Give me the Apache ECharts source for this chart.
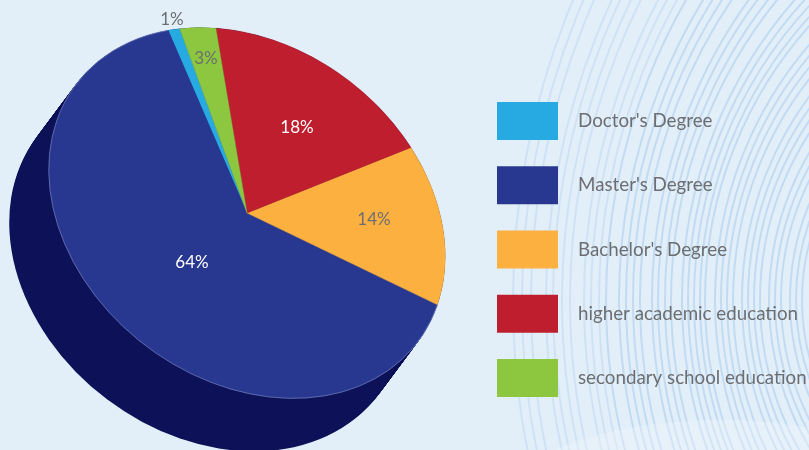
<!DOCTYPE html>
<html>
<head>
<meta charset="utf-8">
<script src="https://cdn.jsdelivr.net/npm/echarts@6/dist/echarts.min.js"></script>
<style>html,body{margin:0;padding:0;background:#e2eff9}#c{width:809px;height:450px}</style>
</head>
<body>
<div id="c"></div>
<script>
// Categories in legend order (the slices run counter-clockwise in this order)
const categories = ["Doctor's Degree", "Master's Degree", "Bachelor's Degree", "higher academic education", "secondary school education"];
// Percentages printed on the chart
const percentValues = [1, 64, 14, 18, 3];

// ---- styling and layout, separate from the data ----
const colors = ['#27aae1', '#283891', '#fbb040', '#be1e2d', '#8dc63f'];
const labelColors = ['#6d6e71', '#ffffff', '#6d6e71', '#ffffff', '#6d6e71'];
const labelSpots = [[172, 19], [192, 262], [374, 219], [297, 127], [206, 58]];
const CX = 247, CY = 213;
const MAJOR = 214, MINOR = 167, TILT_DEG = 37;
const DEPTH_X = -39.5, DEPTH_Y = 53;
const START_DEG = -140.3;
const ringLefts = [513, 522, 531, 546, 553, 562, 570, 584, 591, 599, 606, 619, 626, 633, 640, 652, 658, 665, 671, 682, 688, 694, 700, 705, 715, 721, 727, 733, 742, 748, 754, 760, 769, 775, 781, 790, 796, 802];

const rings = ringLefts.map(function (x, i) {
  const r = 780 - (x - 513) * 1.917;
  return { type: 'circle', silent: true, z: 0,
    shape: { cx: x + r, cy: 300, r: r },
    style: { fill: 'none', stroke: i < 10 ? '#cfe2f5' : '#c2dbf2', lineWidth: 2 } };
});
const glow = { type: 'ellipse', silent: true, z: 1,
  shape: { cx: 720, cy: 520, rx: 230, ry: 100 },
  style: { fill: 'rgba(240,247,252,0.35)' } };

// A tilted, flattened disc: the slice is drawn on a circle, then squashed and turned.
function tilted(child, dx, dy) {
  return {
    type: 'group', x: CX + dx, y: CY + dy, rotation: -TILT_DEG * Math.PI / 180,
    children: [{
      type: 'group', scaleY: MINOR / MAJOR,
      children: [child]
    }]
  };
}

const depthSeries = {
  type: 'custom', name: 'depth', coordinateSystem: 'none', silent: true, z: 2,
  data: [[1]],
  renderItem: function () {
    const children = [];
    for (let k = 0; k <= 53; k++) {
      const t = k / 53;
      children.push(tilted({
        type: 'circle',
        shape: { cx: 0, cy: 0, r: MAJOR },
        style: { fill: '#0c1158' }
      }, DEPTH_X * t, DEPTH_Y * t));
    }
    return { type: 'group', children: children };
  }
};

const total = percentValues.reduce(function (a, b) { return a + b; }, 0);
let walk = START_DEG;
const sliceSeries = categories.map(function (name, i) {
  const from = walk;
  const to = walk - percentValues[i] / total * 360;
  walk = to;
  return {
    type: 'custom', name: name, coordinateSystem: 'none', silent: true, z: 3,
    itemStyle: { color: colors[i] },
    data: [[to, from, percentValues[i]]],
    renderItem: function (params, api) {
      const a0 = api.value(0) * Math.PI / 180;
      const a1 = api.value(1) * Math.PI / 180;
      const kids = [tilted({
        type: 'sector',
        shape: { cx: 0, cy: 0, r0: 0, r: MAJOR, startAngle: a0, endAngle: a1, clockwise: true },
        style: { fill: colors[i], stroke: colors[i], lineWidth: 0.4 }
      }, 0, 0)];
      if (i === 1) {
        kids.push(tilted({
          type: 'arc',
          shape: { cx: 0, cy: 0, r: MAJOR, startAngle: a0, endAngle: a1, clockwise: true },
          style: { fill: 'none', stroke: 'rgba(170,180,225,0.55)', lineWidth: 0.8 }
        }, 0, 0));
      }
      return { type: 'group', children: kids };
    }
  };
});

const labelSeries = {
  type: 'custom', name: 'labels', coordinateSystem: 'none', silent: true, z: 5,
  data: percentValues.map(function (v, i) { return [i, v]; }),
  renderItem: function (params, api) {
    const i = api.value(0);
    return { type: 'text', x: labelSpots[i][0], y: labelSpots[i][1] + 1,
      style: { text: api.value(1) + '%', fill: labelColors[i], font: '17px Lato',
               textAlign: 'center', textVerticalAlign: 'middle' } };
  }
};

const chart = echarts.init(document.getElementById('c'), null, { renderer: 'canvas' });
chart.setOption({
  animation: false,
  backgroundColor: '#e2eff9',
  graphic: { elements: rings.concat([glow]) },
  legend: {
    show: true, orient: 'vertical', left: 497, top: 102, padding: 0,
    data: categories, icon: 'rect', itemWidth: 61, itemHeight: 38, itemGap: 26.25,
    itemStyle: { borderWidth: 0 }, selectedMode: false,
    textStyle: { color: '#6d6e71', fontFamily: 'Lato', fontSize: 18.75, padding: [2, 0, 0, 15] }
  },
  series: [depthSeries].concat(sliceSeries, [labelSeries])
});
</script>
</body>
</html>
